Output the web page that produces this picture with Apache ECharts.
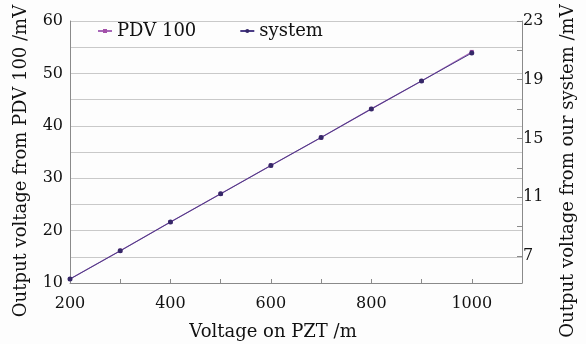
<!DOCTYPE html>
<html>
<head>
<meta charset="utf-8">
<script src="https://cdn.jsdelivr.net/npm/echarts@6/dist/echarts.min.js"></script>
<style>
  html, body { margin: 0; padding: 0; background: #fdfdfd; }
  #chart { width: 586px; height: 344px; }
</style>
</head>
<body>
<div id="chart"></div>
<script>
// PZT voltage (x) and the two measured outputs
const voltages = [200, 300, 400, 500, 600, 700, 800, 900, 1000];
const pdv100 = [10.76, 16.16, 21.63, 27.02, 32.44, 37.77, 43.23, 48.56, 54.1];
const system = [5.43, 7.35, 9.31, 11.23, 13.16, 15.07, 17.01, 18.92, 20.82];
const rightLabels = [7, 11, 15, 19, 23];
const rightTicks = [7, 9, 11, 13, 15, 17, 19, 21, 23];

const font = 'DejaVu Serif';

function initChart() {
    const chartDom = document.getElementById('chart');
    const myChart = echarts.init(chartDom);

    const option = {
        backgroundColor: '#fdfdfd',
        animation: false,
        textStyle: { fontFamily: font, color: '#111' },
        grid: { left: 70, right: 64, top: 21, bottom: 61, outerBoundsMode: 'none', containLabel: false },
        legend: {
            left: 92,
            top: 17,
            itemWidth: 14,
            itemHeight: 5,
            itemGap: 43,
            textStyle: { fontFamily: font, fontSize: 18, color: '#111' },
            data: ['PDV 100', 'system']
        },
        xAxis: {
            type: 'value',
            min: 200,
            max: 1100,
            interval: 100,
            name: 'Voltage on PZT /m',
            nameLocation: 'middle',
            nameGap: 40,
            // the title sits a bit left of the plot centre
            nameTextStyle: { fontFamily: font, fontSize: 18, color: '#111', padding: [0, 46, 0, 0] },
            axisLine: { lineStyle: { color: '#8a8a8a' } },
            axisTick: { inside: true, length: 4, lineStyle: { color: '#8a8a8a' } },
            axisLabel: {
                fontFamily: font, fontSize: 16, color: '#111', margin: 13,
                formatter: v => (v % 200 === 0 && v <= 1000) ? String(v) : ''
            },
            splitLine: { show: false }
        },
        yAxis: [{
            type: 'value',
            min: 10,
            max: 60,
            interval: 5,
            name: 'Output voltage from PDV 100 /mV',
            nameLocation: 'middle',
            nameGap: 40,
            nameTextStyle: { fontFamily: font, fontSize: 18, color: '#111', padding: [0, 18, 0, 0] },
            axisLine: { show: true, lineStyle: { color: '#8a8a8a' } },
            axisTick: { show: false },
            axisLabel: {
                fontFamily: font, fontSize: 16, color: '#111', margin: 7,
                formatter: v => v % 10 === 0 ? String(v) : ''
            },
            splitLine: { lineStyle: { color: '#c9c9c9', width: 1 } }
        }, {
            type: 'value',
            min: 5.16,
            max: 23,
            position: 'right',
            name: 'Output voltage from our system /mV',
            nameLocation: 'middle',
            nameGap: 37,
            nameRotate: 90,
            nameTextStyle: { fontFamily: font, fontSize: 18, color: '#111', padding: [0, 38, 0, 0] },
            axisLine: { show: true, lineStyle: { color: '#8a8a8a' } },
            axisTick: { show: true, inside: true, length: 5, customValues: rightTicks, lineStyle: { color: '#8a8a8a' } },
            axisLabel: { fontFamily: font, fontSize: 16, color: '#111', margin: 1, customValues: rightLabels },
            splitLine: { show: false }
        }],
        series: [{
            name: 'PDV 100',
            type: 'line',
            yAxisIndex: 0,
            data: voltages.map((v, i) => [v, pdv100[i]]),
            symbol: 'rect',
            symbolSize: 4,
            lineStyle: { color: '#a767b8', width: 1.2 },
            itemStyle: { color: '#a34fa8' }
        }, {
            name: 'system',
            type: 'line',
            yAxisIndex: 1,
            data: voltages.map((v, i) => [v, system[i]]),
            symbol: 'circle',
            symbolSize: 5,
            lineStyle: { color: '#4a3c86', width: 1 },
            itemStyle: { color: '#352868' }
        }]
    };

    myChart.setOption(option);
}

initChart();
</script>
</body>
</html>
